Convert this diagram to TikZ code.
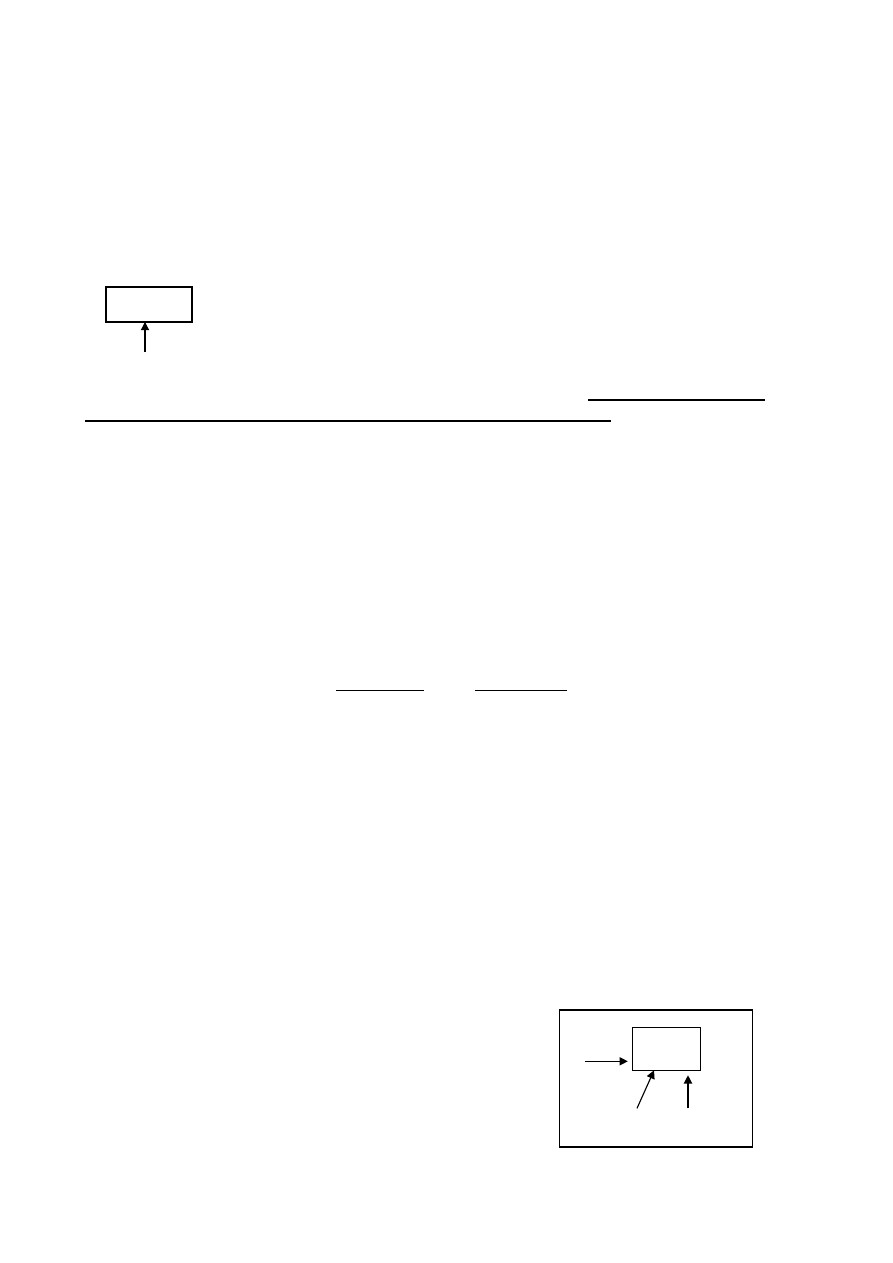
\documentclass[tikz,border=0pt]{standalone}
\usetikzlibrary{arrows.meta}
\begin{document}
\begin{tikzpicture}[x=0.6667pt, y=-0.6667pt, line width=0.75pt,
  box/.style={draw, rectangle, inner sep=0pt, outer sep=0pt},
  arr/.style={-{Triangle[length=5.5pt,width=5.5pt]}}]
\useasboundingbox (0,0) rectangle (893,1263);
% top box with its arrow
\node[box, minimum width=57.3pt, minimum height=23.3pt] (topbox) at (149,304.5){};
\draw[line width=1.4pt](topbox.south west) -- (topbox.south east);
\coordinate (ta) at (145,352);
\draw[arr](ta) -- (ta |- topbox.south);
% underlines
\coordinate (ua) at (588,400);
\coordinate (ub) at (765,400);
\coordinate (uc) at (85,421);
\coordinate (ud) at (611,421);
\draw[line width=0.9pt](ua) -- (ub);
\draw[line width=0.9pt](uc) -- (ud);
\coordinate (ue) at (336,690.5);
\coordinate (uf) at (424,690.5);
\coordinate (ug) at (475,690.5);
\coordinate (uh) at (567,690.5);
\draw[line width=0.9pt](ue) -- (uf);
\draw[line width=0.9pt](ug) -- (uh);
% bottom frame
\node[box, minimum width=128.7pt, minimum height=91.3pt] (frame) at (655.8,1078.5){};
\node[box, minimum width=45.6pt, minimum height=28.7pt] (inbox) at (666.5,1048.8){};
\coordinate (ba) at (585,1061.3);
\coordinate (bb) at (637,1108.3);
\coordinate (bc) at (688,1108.3);
\draw[arr, shorten >=3pt](ba) -- (ba -| inbox.west);
\draw[arr](bb) -- ([xshift=14.5pt]inbox.south west);
\draw[arr, shorten >=3.3pt](bc) -- (bc |- inbox.south);
\end{tikzpicture}
\end{document}
